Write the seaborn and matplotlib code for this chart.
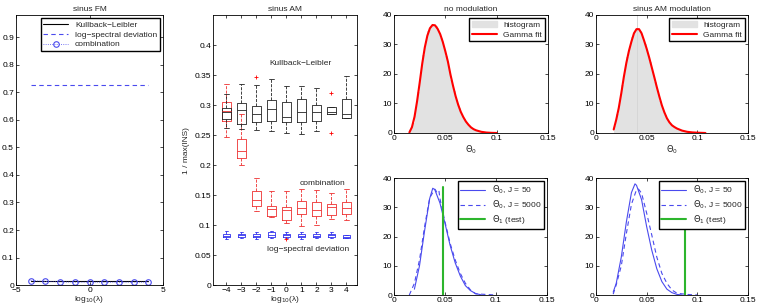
import numpy as np
import seaborn as sns
import matplotlib
matplotlib.use('Agg')
import matplotlib.pyplot as plt
from matplotlib.ticker import FormatStrFormatter
from matplotlib.patches import Patch
from matplotlib.lines import Line2D

#%% data
lam = [-4, -3, -2, -1, 0, 1, 2, 3, 4]

# sinus FM
fm_kl = [0.016, 0.016, 0.016, 0.016, 0.016, 0.016, 0.016, 0.016, 0.016]
fm_lsd = [0.725, 0.725, 0.725, 0.725, 0.725, 0.725, 0.725, 0.725, 0.725]
fm_comb = [0.017, 0.014, 0.012, 0.011, 0.011, 0.011, 0.011, 0.011, 0.011]

# sinus AM boxplots (Kullback-Leibler, black)
kl_q1 = [0.276, 0.2685, 0.2712, 0.274, 0.2718, 0.2718, 0.2728, 0.2849, 0.2777]
kl_med = [0.288, 0.292, 0.2849, 0.2936, 0.280, 0.2892, 0.2892, 0.2892, 0.2849]
kl_q3 = [0.295, 0.303, 0.2985, 0.3083, 0.3056, 0.3095, 0.2996, 0.2974, 0.3095]
kl_lo = [0.262, 0.2603, 0.259, 0.2576, 0.2527, 0.251, 0.256, 0.2849, 0.2777]
kl_hi = [0.318, 0.3357, 0.333, 0.344, 0.3313, 0.3313, 0.329, 0.2974, 0.3476]
kl_fl = [[], [], [0.3465], [], [], [], [], [0.3203, 0.2527], []]

# combination, red
cb_q1 = [0.2728, 0.2112, 0.1326, 0.1156, 0.109, 0.1184, 0.1146, 0.1163, 0.1189]
cb_med = [0.290, 0.224, 0.1418, 0.1266, 0.125, 0.1282, 0.1255, 0.131, 0.1282]
cb_q3 = [0.3046, 0.2428, 0.157, 0.1326, 0.131, 0.1408, 0.138, 0.1353, 0.1392]
cb_lo = [0.2472, 0.2003, 0.1228, 0.1135, 0.103, 0.0982, 0.0999, 0.1107, 0.109]
cb_hi = [0.3345, 0.285, 0.179, 0.1566, 0.1566, 0.1598, 0.1582, 0.1539, 0.1598]
cb_fl = [[], [], [], [], [], [], [], [], []]

# log-spectral deviation, blue
ls_q1 = [0.080, 0.080, 0.080, 0.081, 0.081, 0.080, 0.080, 0.080, 0.079]
ls_med = [0.082, 0.083, 0.082, 0.084, 0.083, 0.082, 0.082, 0.083, 0.081]
ls_q3 = [0.085, 0.086, 0.085, 0.088, 0.086, 0.086, 0.086, 0.086, 0.083]
ls_lo = [0.077, 0.079, 0.077, 0.079, 0.079, 0.077, 0.078, 0.079, 0.079]
ls_hi = [0.090, 0.088, 0.089, 0.090, 0.089, 0.089, 0.089, 0.088, 0.083]
ls_fl = [[], [], [], [], [0.077], [], [], [], []]

# no modulation: histogram + gamma fit
nm_hist = [1.0, 3.5, 8.0, 14.0, 20.5, 26.5, 31.3, 34.5, 36.3, 37.0, 36.2, 34.5,
           32.3, 29.3, 26.0, 22.0, 17.9, 14.2, 11.0, 8.4, 6.3, 4.6, 3.3, 2.3,
           1.6, 1.1, 0.8, 0.55, 0.4, 0.25, 0.15, 0.1, 0.05, 0.03]
nm_fit_x = [0.015, 0.0175, 0.02, 0.0225, 0.025, 0.0275, 0.03, 0.0325, 0.035,
            0.0375, 0.04, 0.0425, 0.045, 0.0475, 0.05, 0.0525, 0.055, 0.0575,
            0.06, 0.0625, 0.065, 0.0675, 0.07, 0.0725, 0.075, 0.0775, 0.08,
            0.085, 0.09, 0.095, 0.1]
nm_fit_y = [0.2, 2.0, 5.5, 10.8, 17.0, 23.5, 29.0, 33.0, 35.5, 36.6, 36.5, 35.3,
            33.5, 30.9, 27.7, 24.2, 19.8, 16.0, 12.5, 9.6, 7.2, 5.4, 3.9, 2.8,
            1.9, 1.3, 0.9, 0.4, 0.15, 0.05, 0.0]
nm_spike_x = [0.039]
nm_spike_h = [41]

# sinus AM modulation: histogram + gamma fit
am_hist = [2.5, 6.3, 11.0, 16.2, 21.5, 25.9, 29.5, 32.5, 34.6, 35.4, 34.6, 32.6,
           30.0, 27.1, 24.0, 20.7, 17.3, 14.0, 10.9, 8.2, 6.0, 4.3, 3.1, 2.3,
           1.75, 1.35, 1.0, 0.75, 0.5, 0.37, 0.27, 0.2, 0.15, 0.1, 0.06, 0.03]
am_fit_x = [0.0175, 0.02, 0.0225, 0.025, 0.0275, 0.03, 0.0325, 0.035, 0.0375,
            0.04, 0.0425, 0.045, 0.0475, 0.05, 0.0525, 0.055, 0.0575, 0.06,
            0.0625, 0.065, 0.0675, 0.07, 0.0725, 0.075, 0.0775, 0.08, 0.085,
            0.09, 0.095, 0.1, 0.108]
am_fit_y = [1.2, 4.5, 8.5, 13.5, 19.0, 23.8, 27.8, 31.0, 33.8, 35.2, 35.2, 33.8,
            31.3, 28.6, 25.6, 22.3, 19.0, 15.6, 12.4, 9.4, 7.0, 5.0, 3.6, 2.6,
            2.0, 1.5, 0.8, 0.4, 0.2, 0.1, 0.0]
am_spike_x = [0.0385, 0.041]
am_spike_h = [41, 40]

# bottom left: no modulation, test
bl_j50_x = [0.02, 0.025, 0.03, 0.035, 0.038, 0.04, 0.045, 0.05, 0.055, 0.06,
            0.065, 0.07, 0.075, 0.08, 0.085]
bl_j50_y = [2, 10, 22, 33, 36.5, 36.0, 31.5, 24.5, 17.0, 11.0, 6.5, 3.2, 1.5, 0.5, 0.1]
bl_j5k_x = [0.015, 0.02, 0.025, 0.03, 0.035, 0.04, 0.042, 0.044, 0.045, 0.05,
            0.055, 0.06, 0.065, 0.07, 0.075, 0.08, 0.085, 0.09, 0.1]
bl_j5k_y = [0, 4, 12, 23.4, 33.2, 36.2, 35.2, 35.8, 33.0, 25.0, 17.7, 12.0, 7.4,
            4.0, 1.7, 0.4, 0.3, 0.2, 0.0]
bl_test = 0.0476
bl_test_h = 37

# bottom right: sinus AM, test
br_j50_x = [0.017, 0.02, 0.025, 0.03, 0.035, 0.0385, 0.04, 0.045, 0.05, 0.055,
            0.06, 0.065, 0.07, 0.075, 0.08, 0.085]
br_j50_y = [1, 4, 13, 25, 35, 38, 37.5, 32.6, 23.4, 15.4, 9.0, 4.6, 2.0, 0.8, 0.2, 0.0]
br_j5k_x = [0.017, 0.02, 0.025, 0.03, 0.035, 0.04, 0.042, 0.045, 0.05, 0.055,
            0.06, 0.065, 0.07, 0.075, 0.08, 0.09, 0.1]
br_j5k_y = [0.3, 3.5, 10, 21, 31, 36, 36.2, 34.8, 28, 20.6, 13, 7.4, 4, 1.7, 0.6, 0.2, 0.0]
br_test = 0.0876
br_test_h = 37

#%% style
sns.set_style('ticks')
plt.rcParams['font.family'] = ['Liberation Sans Narrow', 'Liberation Sans', 'DejaVu Sans']
plt.rcParams['font.size'] = 6
plt.rcParams['mathtext.fontset'] = 'custom'
plt.rcParams['mathtext.rm'] = 'Liberation Sans Narrow'
plt.rcParams['mathtext.it'] = 'Liberation Sans Narrow:italic'
plt.rcParams['axes.linewidth'] = 0.6
plt.rcParams['axes.edgecolor'] = 'black'

blue = '#4a4aee'
green = '#2db52d'
hist_c = '#e2e2e2'
leg_kw = dict(fontsize=6, fancybox=False, framealpha=1, edgecolor='black',
              borderaxespad=0.4, handlelength=3.0, borderpad=0.3, labelspacing=0.25)


def style_ax(ax):
    ax.tick_params(direction='in', top=True, right=True, length=2.5, width=0.5,
                   labelsize=6, pad=1.5, colors='black')
    for s in ax.spines.values():
        s.set_linewidth(0.6)
        s.set_color('black')


fig = plt.figure(figsize=(7.59, 3.06), dpi=100)

#%% sinus FM
ax1 = fig.add_axes([0.0211, 0.068, 0.1937, 0.883])
sns.lineplot(x=lam, y=fm_kl, color='black', lw=0.8, ax=ax1, label='Kullback\u2212Leibler')
sns.lineplot(x=lam, y=fm_lsd, color=blue, lw=0.8, linestyle=(0, (4, 3)), ax=ax1,
             label='log\u2212spectral deviation')
sns.lineplot(x=lam, y=fm_comb, color=blue, lw=0.6, linestyle=':', marker='o',
             markersize=4, markerfacecolor='none', markeredgecolor=blue,
             markeredgewidth=0.8, ax=ax1, label='combination')
ax1.set_xlim(-5, 5)
ax1.set_ylim(0, 0.98)
ax1.set_xticks([-5, 0, 5])
ax1.set_yticks(np.arange(0, 0.95, 0.1))
ax1.yaxis.set_major_formatter(FormatStrFormatter('%g'))
ax1.set_title('sinus FM', fontsize=6, pad=3)
ax1.set_xlabel('log$_{10}$(\u03bb)', fontsize=6, labelpad=0)
ax1.legend(loc='upper right', **leg_kw)
style_ax(ax1)

#%% sinus AM boxplots
ax2 = fig.add_axes([0.2806, 0.068, 0.1897, 0.883])


def stats(q1, med, q3, lo, hi, fl):
    return [dict(q1=a, med=b, q3=c, whislo=d, whishi=e, fliers=f)
            for a, b, c, d, e, f in zip(q1, med, q3, lo, hi, fl)]


def draw_boxes(ax, st, color, width):
    ax.bxp(st, positions=lam, widths=width, capwidths=width * 0.5,
           boxprops=dict(color=color, lw=0.6),
           whiskerprops=dict(color=color, lw=0.6, ls='--'),
           capprops=dict(color=color, lw=0.6),
           medianprops=dict(color=color, lw=0.6),
           flierprops=dict(marker='+', markeredgecolor='red', markersize=3.5,
                           markeredgewidth=0.6, linestyle='none'),
           manage_ticks=False)


draw_boxes(ax2, stats(cb_q1, cb_med, cb_q3, cb_lo, cb_hi, cb_fl), '#ee3030', 0.55)
draw_boxes(ax2, stats(kl_q1, kl_med, kl_q3, kl_lo, kl_hi, kl_fl), '#222222', 0.55)
draw_boxes(ax2, stats(ls_q1, ls_med, ls_q3, ls_lo, ls_hi, ls_fl), '#3030ee', 0.5)
ax2.text(0.95, 0.37, 'Kullback\u2212Leibler', ha='center', va='center', fontsize=6)
ax2.text(2.4, 0.170, 'combination', ha='center', va='center', fontsize=6)
ax2.text(1.42, 0.06, 'log\u2212spectral deviation', ha='center', va='center', fontsize=6)
ax2.set_xlim(-4.9, 4.7)
ax2.set_ylim(0, 0.45)
ax2.set_xticks(lam)
ax2.set_yticks(np.arange(0, 0.41, 0.05))
ax2.yaxis.set_major_formatter(FormatStrFormatter('%g'))
ax2.set_title('sinus AM', fontsize=6, pad=3)
ax2.set_xlabel('log$_{10}$(\u03bb)', fontsize=6, labelpad=0)
ax2.set_ylabel('1 / max(INS)', fontsize=6, labelpad=3)
style_ax(ax2)


#%% histogram panels
def hist_panel(rect, start, heights, fit_x, fit_y, sp_x, sp_h, title):
    ax = fig.add_axes(rect)
    w = 0.0025
    centers = start + w / 2 + w * np.arange(len(heights))
    ax.bar(centers, heights, width=w, color=hist_c, lw=0)
    ax.bar(sp_x, sp_h, width=0.0007, color='#d6d6d6', lw=0)
    sns.lineplot(x=fit_x, y=fit_y, color='red', lw=1.5, ax=ax)
    ax.set_xlim(0, 0.15)
    ax.set_ylim(0, 40)
    ax.set_xticks([0, 0.05, 0.1, 0.15])
    ax.set_yticks([0, 10, 20, 30, 40])
    ax.xaxis.set_major_formatter(FormatStrFormatter('%g'))
    ax.set_title(title, fontsize=6, pad=3)
    ax.set_xlabel(r'$\Theta_0$', fontsize=6, labelpad=1)
    handles = [Patch(facecolor=hist_c, edgecolor=hist_c),
               Line2D([], [], color='red', lw=1.5)]
    ax.legend(handles, ['histogram', 'Gamma fit'], loc='upper right', **leg_kw)
    style_ax(ax)
    return ax


hist_panel([0.5191, 0.5654, 0.2029, 0.3856], 0.015, nm_hist, nm_fit_x, nm_fit_y,
           nm_spike_x, nm_spike_h, 'no modulation')
hist_panel([0.7852, 0.5654, 0.2003, 0.3856], 0.0175, am_hist, am_fit_x, am_fit_y,
           am_spike_x, am_spike_h, 'sinus AM modulation')


#%% test panels
def test_panel(rect, x50, y50, x5k, y5k, t, th):
    ax = fig.add_axes(rect)
    sns.lineplot(x=x50, y=y50, color=blue, lw=0.8, ax=ax, label=r'$\Theta_0$, J = 50')
    sns.lineplot(x=x5k, y=y5k, color=blue, lw=0.8, linestyle=(0, (4, 3)), ax=ax,
                 label=r'$\Theta_0$, J = 5000')
    ax.plot([t, t], [0, th], color=green, lw=1.5, label=r'$\Theta_1$ (test)')
    ax.set_xlim(0, 0.15)
    ax.set_ylim(0, 40)
    ax.set_xticks([0, 0.05, 0.1, 0.15])
    ax.set_yticks([0, 10, 20, 30, 40])
    ax.xaxis.set_major_formatter(FormatStrFormatter('%g'))
    ax.set_xlabel('')
    ax.legend(loc='upper right', **leg_kw)
    style_ax(ax)
    return ax


test_panel([0.5191, 0.0359, 0.2016, 0.3824], bl_j50_x, bl_j50_y, bl_j5k_x, bl_j5k_y,
           bl_test, bl_test_h)
test_panel([0.7852, 0.0359, 0.2003, 0.3824], br_j50_x, br_j50_y, br_j5k_x, br_j5k_y,
           br_test, br_test_h)

fig.savefig('out.png', dpi=100)
